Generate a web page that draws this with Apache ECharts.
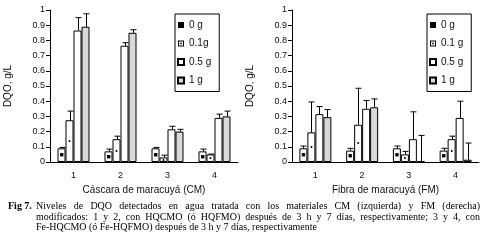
<!DOCTYPE html>
<html>
<head>
<meta charset="utf-8">
<script src="https://cdn.jsdelivr.net/npm/echarts@6/dist/echarts.min.js"></script>
<style>
  html, body { margin: 0; padding: 0; background: #fff; }
  #chart { width: 484px; height: 242px; }
</style>
</head>
<body>
<div id="chart"></div>
<script>
// categorias (tratamientos 1-4)
var categories = ['1', '2', '3', '4'];
var yTicks = [0, 0.1, 0.2, 0.3, 0.4, 0.5, 0.6, 0.7, 0.8, 0.9, 1];

// Cáscara de maracuyá (CM): medias y error
var cmNames = ['0 g', '0.1g', '0.5 g', '1 g'];
var cm_0g = [0.09, 0.07, 0.09, 0.07];
var cm_01g = [0.275, 0.15, 0.03, 0.05];
var cm_05g = [0.865, 0.765, 0.215, 0.29];
var cm_1g = [0.89, 0.85, 0.20, 0.30];
var cm_0g_err = [0.006, 0.015, 0.006, 0.015];
var cm_01g_err = [0.06, 0.02, 0.015, 0.002];
var cm_05g_err = [0.085, 0.02, 0.02, 0.025];
var cm_1g_err = [0.085, 0.02, 0.015, 0.035];

// Fibra de maracuyá (FM): medias y error
var fmNames = ['0 g', '0.1 g', '0.5 g', '1 g'];
var fm_0g = [0.09, 0.075, 0.09, 0.075];
var fm_01g = [0.195, 0.245, 0.05, 0.15];
var fm_05g = [0.315, 0.35, 0.15, 0.29];
var fm_1g = [0.295, 0.36, 0.005, 0.015];
var fm_0g_err = [0.015, 0.015, 0.015, 0.015];
var fm_01g_err = [0.2, 0.24, 0.02, 0.02];
var fm_05g_err = [0.05, 0.055, 0.18, 0.11];
var fm_1g_err = [0.05, 0.055, 0.17, 0.11];

// pie de figura
var captionLines = [
  'Niveles de DQO detectados en agua tratada con los materiales CM (izquierda) y FM (derecha)',
  'modificados: 1 y 2, con HQCMO (ó HQFMO) después de 3 h y 7 días, respectivamente; 3 y 4, con',
  'Fe-HQCMO (ó Fe-HQFMO) después de 3 h y 7 días, respectivamente'
];

var BAR_W = 8;
var fills = ['#fff', '#fff', '#fff', '#d9d9d9'];
var marks = ['■', '•', '', ''];
var dotIcon = 'path://M0,0L10,0L10,10L0,10Z M1.6,1.6L1.6,8.4L8.4,8.4L8.4,1.6Z M3.6,3.6L6.4,3.6L6.4,6.4L3.6,6.4Z';

var myChart = echarts.init(document.getElementById('chart'));

function xAxis(idx, name) {
  return {
    type: 'category', gridIndex: idx, data: categories,
    name: name, nameLocation: 'middle', nameGap: 23,
    nameTextStyle: { fontFamily: 'Liberation Sans', fontSize: 10, color: '#111' },
    axisLine: { lineStyle: { color: '#000', width: 1 } },
    axisTick: { length: 4, lineStyle: { color: '#000' } },
    axisLabel: { fontFamily: 'Liberation Sans', fontSize: 9, color: '#111', margin: 9 }
  };
}
function yAxis(idx) {
  return {
    type: 'value', gridIndex: idx, min: 0, max: 1, interval: 0.1,
    name: 'DQO, g/L', nameLocation: 'middle', nameGap: 37,
    nameTextStyle: { fontFamily: 'Liberation Sans', fontSize: 10, color: '#111' },
    axisLine: { show: true, lineStyle: { color: '#000', width: 1 } },
    axisTick: { show: true, length: 4, lineStyle: { color: '#000' } },
    splitLine: { show: false },
    axisLabel: {
      fontFamily: 'Liberation Sans', fontSize: 9, color: '#111', margin: 5,
      formatter: function (v) { var r = Math.round(v * 10) / 10; return yTicks.indexOf(r) >= 0 ? String(r) : ''; }
    }
  };
}

function bars(idx, names, sets) {
  return sets.map(function (vals, k) {
    return {
      type: 'bar', name: names[k], xAxisIndex: idx, yAxisIndex: idx,
      data: vals, barWidth: BAR_W, barGap: '0%',
      itemStyle: { color: fills[k], borderColor: '#000', borderWidth: 1 },
      label: {
        show: marks[k] !== '', position: 'inside', formatter: marks[k],
        color: '#000', fontSize: 7
      },
      emphasis: { disabled: true }
    };
  });
}

function errors(idx, sets, errs) {
  var data = [];
  sets.forEach(function (vals, k) {
    vals.forEach(function (v, i) { data.push([i, v, errs[k][i], k]); });
  });
  return {
    type: 'custom', xAxisIndex: idx, yAxisIndex: idx, data: data, z: 5,
    encode: { x: 0, y: 1 },
    renderItem: function (params, api) {
      var i = api.value(0), v = api.value(1), e = api.value(2), k = api.value(3);
      var base = api.coord([i, v]);
      var top = api.coord([i, v + e]);
      var cx = Math.round(base[0] + (k - 1.5) * BAR_W) + 0.5;
      return {
        type: 'group', children: [
          { type: 'line', shape: { x1: cx, y1: base[1], x2: cx, y2: top[1] }, style: { stroke: '#000', lineWidth: 1 } },
          { type: 'line', shape: { x1: cx - 3, y1: top[1], x2: cx + 3, y2: top[1] }, style: { stroke: '#000', lineWidth: 1 } }
        ]
      };
    }
  };
}

function legend(left, names) {
  return {
    data: names.map(function (n, k) {
      if (k === 0) return { name: n, icon: 'rect', itemStyle: { color: '#000', borderWidth: 0 } };
      if (k === 1) return { name: n, icon: dotIcon, itemStyle: { color: '#000', borderWidth: 0 } };
      return { name: n, icon: 'rect' };
    }),
    orient: 'vertical', left: left, top: 14,
    itemWidth: 6, itemHeight: 6, itemGap: 8.5,
    backgroundColor: '#fff', borderColor: '#000', borderWidth: 1,
    padding: [6, 8, 6, 2],
    textStyle: { fontFamily: 'Liberation Sans', fontSize: 10, color: '#111' },
    selectedMode: false
  };
}

// pie de figura: texto estirado en horizontal, lineas 1 y 2 justificadas
var capFont = '10px "Liberation Serif"';
var ctx = document.createElement('canvas').getContext('2d');
ctx.font = capFont;
function captionGraphics() {
  var out = [];
  var x0 = 36, x1 = 480, ys = [206.5, 217, 227];
  var sx = (317 - x0) / ctx.measureText(captionLines[2]).width;
  out.push({ type: 'text', x: 8, y: ys[0], scaleX: sx, style: { text: 'Fig 7.', font: 'bold ' + capFont, fill: '#000', verticalAlign: 'middle' } });
  captionLines.forEach(function (line, li) {
    var words = line.split(' ');
    var widths = words.map(function (w) { return ctx.measureText(w).width * sx; });
    var total = widths.reduce(function (a, b) { return a + b; }, 0);
    var gap = li < 2 ? (x1 - x0 - total) / (words.length - 1) : ctx.measureText(' ').width * sx;
    var x = x0;
    words.forEach(function (w, wi) {
      out.push({ type: 'text', x: x, y: ys[li], scaleX: sx, style: { text: w, font: capFont, fill: '#000', verticalAlign: 'middle' } });
      x += widths[wi] + gap;
    });
  });
  return out;
}

var cmSets = [cm_0g, cm_01g, cm_05g, cm_1g];
var cmErrs = [cm_0g_err, cm_01g_err, cm_05g_err, cm_1g_err];
var fmSets = [fm_0g, fm_01g, fm_05g, fm_1g];
var fmErrs = [fm_0g_err, fm_01g_err, fm_05g_err, fm_1g_err];

myChart.setOption({
  animation: false,
  grid: [
    { left: 50, top: 10, width: 188, height: 152 },
    { left: 292, top: 10, width: 187, height: 152 }
  ],
  xAxis: [xAxis(0, 'Cáscara de maracuyá (CM)'), xAxis(1, 'Fibra de maracuyá (FM)')],
  yAxis: [yAxis(0), yAxis(1)],
  legend: [legend(175, cmNames), legend(427, fmNames)],
  series: [].concat(
    bars(0, cmNames, cmSets), [errors(0, cmSets, cmErrs)],
    bars(1, fmNames, fmSets), [errors(1, fmSets, fmErrs)]
  ),
  graphic: captionGraphics()
});
window.onresize = function () { myChart.resize(); };
</script>
</body>
</html>
